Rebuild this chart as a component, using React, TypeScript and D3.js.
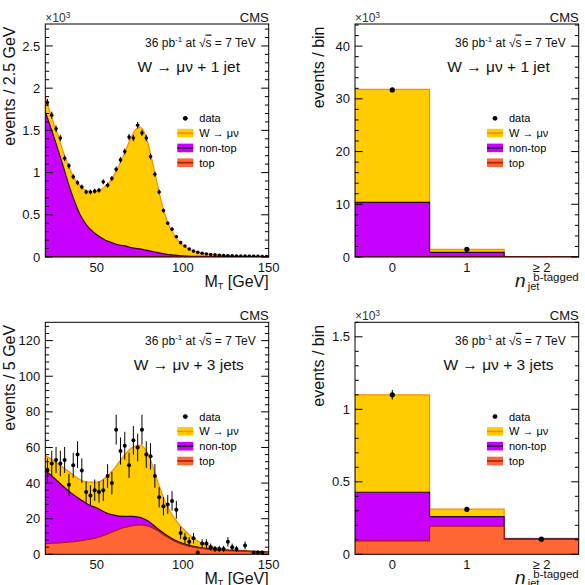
import React from "react";
import * as d3 from "d3";

const FONT = "'Liberation Sans', Arial, Helvetica, sans-serif";

// Fill / outline colours of the stacked contributions
const C_W = "#FFCC00";
const C_W_LINE = "#FF8A00";
const C_NT = "#C800FF";
const C_NT_LINE = "#2E0040";
const C_TOP = "#FF6633";
const C_TOP_LINE = "#A82000";

// ---------- M_T, W -> mu nu + 1 jet (10^3 events / bin) ----------
const MT_FIRST_EDGE = 20;
const MT_BIN_WIDTH = 2.5;
const data1Jet = [
  1.83, 1.68, 1.52, 1.41, 1.17, 1.08, 0.95, 0.88, 0.83, 0.77, 0.77, 0.78, 0.79,
  0.89, 0.85, 0.93, 1.04, 1.15, 1.25, 1.42, 1.41, 1.56, 1.47, 1.41, 1.19, 0.98,
  0.77, 0.55, 0.4, 0.33, 0.24, 0.17, 0.13, 0.095, 0.07, 0.055, 0.045, 0.035,
  0.03, 0.025, 0.02, 0.018, 0.015, 0.013, 0.012, 0.01, 0.01, 0.008, 0.008,
  0.007, 0.006, 0.006,
];
const mcGrid1Jet = [
  20, 22.5, 25, 27.5, 30, 32.5, 35, 37.5, 40, 42.5, 45, 47.5, 50, 52.5, 55, 57.5,
  60, 62.5, 65, 67.5, 70, 72.5, 75, 77.5, 80, 82.5, 85, 87.5, 90, 92.5, 95, 97.5,
  100, 105, 110, 115, 120, 125, 130, 135, 140, 145, 150,
];
const top1Jet = [
  0.002, 0.002, 0.002, 0.002, 0.002, 0.002, 0.003, 0.003, 0.003, 0.003, 0.003,
  0.004, 0.004, 0.004, 0.004, 0.005, 0.005, 0.005, 0.006, 0.006, 0.006, 0.006,
  0.006, 0.006, 0.005, 0.005, 0.004, 0.004, 0.003, 0.003, 0.002, 0.002, 0.002,
  0.001, 0.001, 0.001, 0.001, 0.001, 0.001, 0.0005, 0.0005, 0.0005, 0.0005,
];
const nonTop1Jet = [
  1.72, 1.57, 1.42, 1.26, 1.1, 0.93, 0.77, 0.63, 0.51, 0.42, 0.35, 0.3, 0.26,
  0.225, 0.195, 0.175, 0.155, 0.14, 0.13, 0.12, 0.105, 0.097, 0.09, 0.08, 0.07,
  0.06, 0.05, 0.04, 0.03, 0.025, 0.02, 0.016, 0.012, 0.008, 0.006, 0.004, 0.003,
  0.002, 0.002, 0.001, 0.001, 0.001, 0.001,
];
const wmunu1Jet = [
  0.178, 0.158, 0.158, 0.178, 0.168, 0.198, 0.237, 0.277, 0.337, 0.377, 0.427,
  0.466, 0.516, 0.571, 0.641, 0.71, 0.81, 0.925, 1.044, 1.174, 1.309, 1.407,
  1.444, 1.394, 1.255, 1.045, 0.826, 0.616, 0.447, 0.322, 0.238, 0.172, 0.126,
  0.071, 0.043, 0.03, 0.021, 0.017, 0.012, 0.0105, 0.0085, 0.0065, 0.0055,
];

// ---------- M_T, W -> mu nu + 3 jets (events / bin) ----------
const data3Jets = [
  47, 51, 53, 51, 53, 39, 50, 56, 47, 35, 33, 36, 35, 36, 44, 40, 70, 58, 61, 50,
  64, 60, 70, 56, 55, 44, 32, 27, 28, 30, 25, 12, 9, 7, 9, 1, 6, 6, 4, 3, 3, 3, 7,
  4, 3, 0, 5, 0, 1, 1, 1, 0,
];
const mcGrid3Jets = [
  20, 25, 30, 35, 40, 45, 50, 55, 60, 65, 70, 75, 80, 85, 90, 95, 100, 105, 110,
  115, 120, 125, 130, 135, 140, 145, 150,
];
const top3Jets = [
  6, 6.2, 6.5, 6.9, 7.5, 8.3, 9.3, 11, 13, 14.8, 16, 16.5, 15.8, 13.5, 10.3, 7.5,
  5.6, 4.3, 3.4, 2.8, 2.4, 2.1, 1.9, 1.7, 1.5, 1.35, 1.2,
];
const nonTop3Jets = [
  41, 36.8, 32, 27.6, 23.5, 19.7, 16.7, 12.5, 9, 6.5, 5.3, 4.3, 2.7, 1.2, 0.8,
  0.6, 0.5, 0.45, 0.4, 0.35, 0.3, 0.25, 0.2, 0.2, 0.15, 0.12, 0.1,
];
const wmunu3Jets = [
  8.5, 9.5, 10.5, 11, 11, 12.5, 14.5, 19.5, 26, 33.2, 38.2, 40.5, 37.5, 27.3,
  17.9, 12.4, 8.4, 5.3, 3, 1.9, 1, 0.6, 0.35, 0.25, 0.2, 0.15, 0.12,
];

// ---------- b-tagged jet multiplicity ----------
const bTagCategories = ["0", "1", "≥ 2"];
// + 1 jet (10^3 events / bin)
const bTop1Jet = [0.05, 0.08, 0.03];
const bNonTop1Jet = [10.3, 0.8, 0.01];
const bWmunu1Jet = [21.45, 0.57, 0.01];
const bData1Jet: (number | null)[] = [31.7, 1.46, null];
// + 3 jets (10^3 events / bin)
const bTop3Jets = [0.092, 0.195, 0.102];
const bNonTop3Jets = [0.336, 0.065, 0.004];
const bWmunu3Jets = [0.672, 0.052, 0.004];
const bData3Jets: (number | null)[] = [1.1, 0.31, 0.104];

// ---------- axis ticks and labels ----------
const yTicks1Jet = [0, 0.5, 1, 1.5, 2, 2.5];
const yTicksB1Jet = [0, 10, 20, 30, 40];
const yTicks3Jets = [0, 20, 40, 60, 80, 100, 120];
const yTicksB3Jets = [0, 0.5, 1, 1.5];
const mtTicks = [50, 100, 150];
const legendLabels = ["data", "W → μν", "non-top", "top"];

type Box = { x0: number; x1: number; y0: number; y1: number };

const BOX_TL: Box = { x0: 45.3, x1: 268.7, y0: 24, y1: 257 };
const BOX_TR: Box = { x0: 355, x1: 578.7, y0: 24, y1: 257 };
const BOX_BL: Box = { x0: 45.3, x1: 268.7, y0: 322.3, y1: 554.3 };
const BOX_BR: Box = { x0: 355, x1: 578.7, y0: 322.3, y1: 554.3 };

const fmt = d3.format("~g");

function Legend({ box }: { box: Box }) {
  const dx = box.x0 + 140;
  const bx0 = box.x0 + 132;
  const tx = box.x0 + 154;
  const rowY = (i: number) => box.y0 + 94.3 + i * 14.8;
  const boxes = [
    [C_W, C_W_LINE],
    [C_NT, C_NT_LINE],
    [C_TOP, C_TOP_LINE],
  ];
  return (
    <g fontFamily={FONT} fontSize={11}>
      <circle cx={dx} cy={rowY(0)} r={2.4} fill="#000" />
      {boxes.map(([f, l], i) => (
        <g key={i}>
          <rect x={bx0} y={rowY(i + 1) - 4.3} width={16} height={8.6} fill={f} />
          <line x1={bx0} x2={bx0 + 16} y1={rowY(i + 1)} y2={rowY(i + 1)} stroke={l} strokeWidth={1.6} />
        </g>
      ))}
      {legendLabels.map((t, i) => (
        <text key={t} x={tx} y={rowY(i) + 4}>{t}</text>
      ))}
    </g>
  );
}

function Shell(props: {
  id: string;
  box: Box;
  y: d3.ScaleLinear<number, number>;
  yTicks: number[];
  minorStep: number;
  yTitle: string;
  titleX: number;
  multiplier: boolean;
  jets: string;
  children: React.ReactNode;
  xAxis: React.ReactNode;
}) {
  const { id, box, y, yTicks, minorStep, yTitle, titleX, multiplier, jets, children, xAxis } = props;
  const yMax = y.domain()[1];
  const minors = d3
    .range(0, yMax + 1e-9, minorStep)
    .filter((v) => !yTicks.some((t) => Math.abs(t - v) < 1e-6));
  const MAJ = 7.5;
  const MIN = 3.8;
  return (
    <g>
      <defs>
        <clipPath id={id}>
          <rect x={box.x0} y={box.y0} width={box.x1 - box.x0} height={box.y1 - box.y0} />
        </clipPath>
      </defs>
      <g clipPath={`url(#${id})`}>{children}</g>
      <rect
        x={box.x0}
        y={box.y0}
        width={box.x1 - box.x0}
        height={box.y1 - box.y0}
        fill="none"
        stroke="#000"
        strokeWidth={1}
      />
      <g stroke="#000" strokeWidth={1}>
        {yTicks.map((t) => (
          <g key={"M" + t}>
            <line x1={box.x0} x2={box.x0 + MAJ} y1={y(t)} y2={y(t)} />
            <line x1={box.x1} x2={box.x1 - MAJ} y1={y(t)} y2={y(t)} />
          </g>
        ))}
        {minors.map((t) => (
          <g key={"m" + t}>
            <line x1={box.x0} x2={box.x0 + MIN} y1={y(t)} y2={y(t)} />
            <line x1={box.x1} x2={box.x1 - MIN} y1={y(t)} y2={y(t)} />
          </g>
        ))}
      </g>
      <g fontFamily={FONT} fontSize={13} textAnchor="end" fill="#111">
        {yTicks.map((t) => (
          <text key={t} x={box.x0 - 5} y={y(t) + 4.6}>{fmt(t)}</text>
        ))}
      </g>
      <text
        transform={`translate(${titleX},${box.y0 + 2.5}) rotate(-90)`}
        textAnchor="end"
        fontFamily={FONT}
        fontSize={16}
        fill="#111"
      >
        {yTitle}
      </text>
      {multiplier && (
        <text x={box.x0} y={box.y0 - 2} fontFamily={FONT} fontSize={12} fill="#333">
          ×10<tspan fontSize={8.5} dy={-4.5}>3</tspan>
        </text>
      )}
      <text x={box.x1} y={box.y0 - 2.5} textAnchor="end" fontFamily={FONT} fontSize={13} fill="#111">
        CMS
      </text>
      <text x={box.x1 - 13} y={box.y0 + 22.5} textAnchor="end" fontFamily={FONT} fontSize={12} fill="#111">
        36 pb<tspan fontSize={8} dy={-4.5}>-1</tspan>
        <tspan dy={4.5}>{"  at "}</tspan>
        <tspan>√</tspan>
        <tspan textDecoration="overline">s</tspan>
        <tspan>{" = 7 TeV"}</tspan>
      </text>
      <text x={box.x0 + 143.5} y={box.y0 + 48} textAnchor="middle" fontFamily={FONT} fontSize={15.5} fill="#111">
        {"W → μν + " + jets}
      </text>
      <Legend box={box} />
      {xAxis}
    </g>
  );
}

function MtPanel(props: {
  id: string;
  box: Box;
  yMax: number;
  yTicks: number[];
  minorStep: number;
  yTitle: string;
  multiplier: boolean;
  jets: string;
  unit: number;
  grid: number[];
  top: number[];
  nonTop: number[];
  wmunu: number[];
  data: number[];
  markerR: number;
}) {
  const { box, grid, top, nonTop, wmunu, data, unit } = props;
  const x = d3.scaleLinear().domain([MT_FIRST_EDGE, 150]).range([box.x0, box.x1]);
  const y = d3.scaleLinear().domain([0, props.yMax]).range([box.y1, box.y0]);

  const rows = grid.map((mt, i) => ({ mt, top: top[i], nonTop: nonTop[i], wmunu: wmunu[i] }));
  const series = d3.stack<any>().keys(["top", "nonTop", "wmunu"])(rows);
  const area = d3
    .area<any>()
    .x((d) => x(d.data.mt))
    .y0(y(0))
    .y1((d) => y(d[1]))
    .curve(d3.curveMonotoneX);
  const line = d3
    .line<any>()
    .x((d) => x(d.data.mt))
    .y((d) => y(d[1]))
    .curve(d3.curveMonotoneX);
  const styles = [
    [C_TOP, C_TOP_LINE],
    [C_NT, C_NT_LINE],
    [C_W, C_W_LINE],
  ];
  const order = [2, 1, 0];

  const points = data
    .map((v, i) => ({ c: MT_FIRST_EDGE + MT_BIN_WIDTH * (i + 0.5), v }))
    .filter((p) => p.v > 0);

  const xAxis = (
    <g fontFamily={FONT} fill="#111">
      {mtTicks.map((t) => (
        <text key={t} x={x(t)} y={box.y1 + 15} textAnchor="middle" fontSize={13}>{t}</text>
      ))}
      <text x={box.x1} y={box.y1 + 30} textAnchor="end" fontSize={16}>
        M<tspan fontSize={9} dy={2}>T</tspan>
        <tspan dy={-2}>{" [GeV]"}</tspan>
      </text>
    </g>
  );

  return (
    <Shell
      id={props.id}
      box={box}
      y={y}
      yTicks={props.yTicks}
      minorStep={props.minorStep}
      yTitle={props.yTitle}
      titleX={14.5}
      multiplier={props.multiplier}
      jets={props.jets}
      xAxis={xAxis}
    >
      {order.map((k) => (
        <g key={k}>
          <path d={area(series[k] as any) || ""} fill={styles[k][0]} />
          <path d={line(series[k] as any) || ""} fill="none" stroke={styles[k][1]} strokeWidth={1.2} />
        </g>
      ))}
      <g stroke="#000" strokeWidth={1}>
        {points.map((p, i) => {
          const e = Math.sqrt(p.v * unit) / unit;
          return <line key={i} x1={x(p.c)} x2={x(p.c)} y1={y(p.v - e)} y2={y(p.v + e)} />;
        })}
      </g>
      {points.map((p, i) => (
        <circle key={i} cx={x(p.c)} cy={y(p.v)} r={props.markerR} fill="#000" />
      ))}
    </Shell>
  );
}

function BTagPanel(props: {
  id: string;
  box: Box;
  yMax: number;
  yTicks: number[];
  minorStep: number;
  jets: string;
  top: number[];
  nonTop: number[];
  wmunu: number[];
  data: (number | null)[];
}) {
  const { box, top, nonTop, wmunu, data } = props;
  const x = d3.scaleBand<string>().domain(bTagCategories).range([box.x0, box.x1]).padding(0);
  const y = d3.scaleLinear().domain([0, props.yMax]).range([box.y1, box.y0]);

  const rows = bTagCategories.map((c, i) => ({ c, top: top[i], nonTop: nonTop[i], wmunu: wmunu[i] }));
  const series = d3.stack<any>().keys(["top", "nonTop", "wmunu"])(rows);
  // histogram step outline: one point per lower bin edge plus the upper edge of the last bin
  const stepPts = (s: any[]) => [
    ...s.map((d) => [x(d.data.c)!, d[1]] as [number, number]),
    [box.x1, s[s.length - 1][1]] as [number, number],
  ];
  const area = d3
    .area<[number, number]>()
    .x((d) => d[0])
    .y0(y(0))
    .y1((d) => y(d[1]))
    .curve(d3.curveStepAfter);
  const line = d3
    .line<[number, number]>()
    .x((d) => d[0])
    .y((d) => y(d[1]))
    .curve(d3.curveStepAfter);
  const styles = [
    [C_TOP, C_TOP_LINE],
    [C_NT, C_NT_LINE],
    [C_W, C_W_LINE],
  ];
  const order = [2, 1, 0];
  const bw = x.bandwidth();

  const xAxis = (
    <g fontFamily={FONT} fill="#111">
      {bTagCategories.map((c) => (
        <text key={c} x={x(c)! + bw / 2} y={box.y1 + 15} textAnchor="middle" fontSize={13}>{c}</text>
      ))}
      <text x={box.x1 - 53} y={box.y1 + 30} textAnchor="end" fontSize={19} fontStyle="italic">n</text>
      <text x={box.x1 - 51} y={box.y1 + 32.5} fontSize={11}>jet</text>
      <text x={box.x1} y={box.y1 + 23.5} textAnchor="end" fontSize={11.5}>b-tagged</text>
    </g>
  );

  return (
    <Shell
      id={props.id}
      box={box}
      y={y}
      yTicks={props.yTicks}
      minorStep={props.minorStep}
      yTitle="events / bin"
      titleX={324}
      multiplier={true}
      jets={props.jets}
      xAxis={xAxis}
    >
      {order.map((k) => {
        const pts = stepPts(series[k] as any);
        return (
          <g key={k}>
            <path d={area(pts) || ""} fill={styles[k][0]} />
            <path d={line(pts) || ""} fill="none" stroke={styles[k][1]} strokeWidth={1.2} />
          </g>
        );
      })}
      {data.map((v, i) => {
        if (v == null) return null;
        const cx = x(bTagCategories[i])! + bw / 2;
        const e = Math.sqrt(v * 1000) / 1000;
        return (
          <g key={i}>
            <line x1={cx} x2={cx} y1={y(v - e)} y2={y(v + e)} stroke="#000" strokeWidth={1} />
            <circle cx={cx} cy={y(v)} r={2.6} fill="#000" />
          </g>
        );
      })}
    </Shell>
  );
}

export default function App() {
  return (
    <svg
      width={585}
      height={585}
      viewBox="0 0 585 585"
      style={{ position: "absolute", left: 0, top: 0, background: "#fff" }}
    >
      <rect width={585} height={585} fill="#fff" />
      <MtPanel
        id="clip-tl"
        box={BOX_TL}
        yMax={2.76}
        yTicks={yTicks1Jet}
        minorStep={0.1}
        yTitle="events / 2.5 GeV"
        multiplier={true}
        jets="1 jet"
        unit={1000}
        grid={mcGrid1Jet}
        top={top1Jet}
        nonTop={nonTop1Jet}
        wmunu={wmunu1Jet}
        data={data1Jet}
        markerR={1.8}
      />
      <BTagPanel
        id="clip-tr"
        box={BOX_TR}
        yMax={44.2}
        yTicks={yTicksB1Jet}
        minorStep={2}
        jets="1 jet"
        top={bTop1Jet}
        nonTop={bNonTop1Jet}
        wmunu={bWmunu1Jet}
        data={bData1Jet}
      />
      <MtPanel
        id="clip-bl"
        box={BOX_BL}
        yMax={130.3}
        yTicks={yTicks3Jets}
        minorStep={4}
        yTitle="events / 5 GeV"
        multiplier={false}
        jets="3 jets"
        unit={1}
        grid={mcGrid3Jets}
        top={top3Jets}
        nonTop={nonTop3Jets}
        wmunu={wmunu3Jets}
        data={data3Jets}
        markerR={2}
      />
      <BTagPanel
        id="clip-br"
        box={BOX_BR}
        yMax={1.6}
        yTicks={yTicksB3Jets}
        minorStep={0.1}
        jets="3 jets"
        top={bTop3Jets}
        nonTop={bNonTop3Jets}
        wmunu={bWmunu3Jets}
        data={bData3Jets}
      />
    </svg>
  );
}
